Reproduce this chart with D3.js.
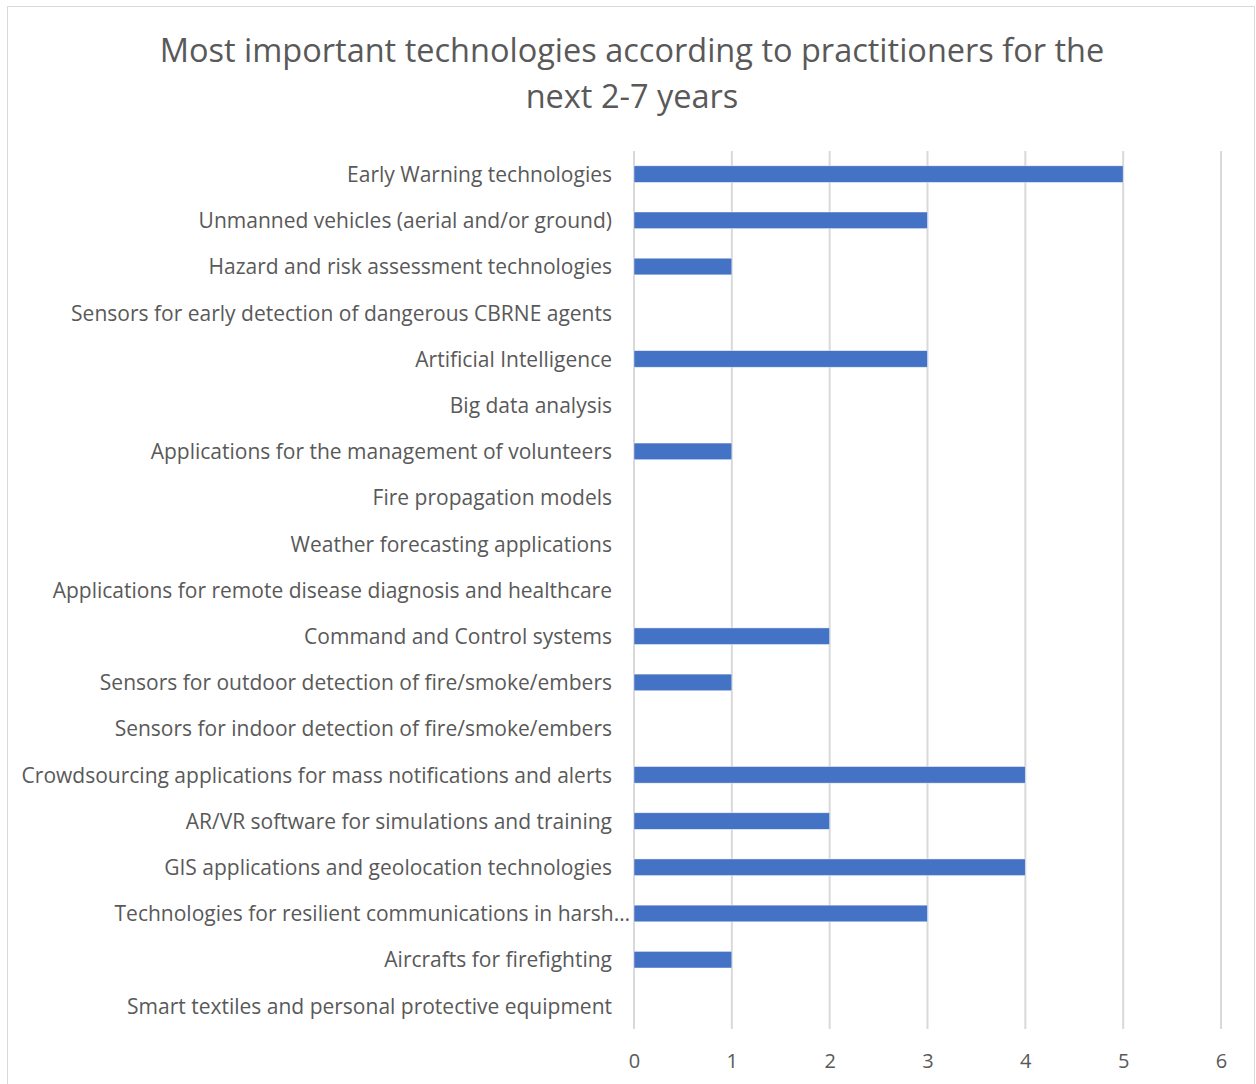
<!DOCTYPE html>
<html>
<head>
<meta charset="utf-8">
<script src="https://cdn.jsdelivr.net/npm/d3@7"></script>
<style>
  body { margin: 0; background: #fff; }
  svg { display: block; }
</style>
</head>
<body>
<div id="chart"></div>
<script>
// chart values
var categories = [
  "Early Warning technologies",
  "Unmanned vehicles (aerial and/or ground)",
  "Hazard and risk assessment technologies",
  "Sensors for early detection of dangerous CBRNE agents",
  "Artificial Intelligence",
  "Big data analysis",
  "Applications for the management of volunteers",
  "Fire propagation models",
  "Weather forecasting applications",
  "Applications for remote disease diagnosis and healthcare",
  "Command and Control systems",
  "Sensors for outdoor detection of fire/smoke/embers",
  "Sensors for indoor detection of fire/smoke/embers",
  "Crowdsourcing applications for mass notifications and alerts",
  "AR/VR software for simulations and training",
  "GIS applications and geolocation technologies",
  "Technologies for resilient communications in harsh…",
  "Aircrafts for firefighting",
  "Smart textiles and personal protective equipment"
];
var values = [5, 3, 1, 0, 3, 0, 1, 0, 0, 0, 2, 1, 0, 4, 2, 4, 3, 1, 0];
var xTicks = [0, 1, 2, 3, 4, 5, 6];
var titleLines = ["Most important technologies according to practitioners for the", "next 2-7 years"];

var width = 1256, height = 1084;
var margin = {top: 151, right: 35, bottom: 55, left: 634};
var font = "'Open Sans', sans-serif";

var svg = d3.select("#chart").append("svg")
  .attr("width", width)
  .attr("height", height);

// outer border of the chart area
svg.append("rect")
  .attr("x", 7.5).attr("y", 6.5)
  .attr("width", 1247).attr("height", 1090)
  .attr("fill", "#fff")
  .attr("stroke", "#d9d9d9");

svg.selectAll("text.title")
  .data(titleLines)
  .join("text")
  .attr("class", "title")
  .attr("x", 632)
  .attr("y", (d, i) => 62 + i * 46)
  .attr("text-anchor", "middle")
  .style("font-family", font)
  .style("font-size", "32.5px")
  .attr("fill", "#595959")
  .text(d => d);

var x_scale = d3.scaleLinear()
  .domain([0, 6])
  .range([margin.left, width - margin.right]);

var y_scale = d3.scaleBand()
  .domain(categories)
  .range([margin.top, height - margin.bottom])
  .paddingInner(0.64)
  .paddingOuter(0.32);

// gridlines
svg.append("g")
  .selectAll("line")
  .data(xTicks)
  .join("line")
  .attr("x1", d => x_scale(d)).attr("x2", d => x_scale(d))
  .attr("y1", margin.top).attr("y2", height - margin.bottom)
  .attr("stroke", "#d9d9d9")
  .attr("stroke-width", 2);

// bars
svg.append("g")
  .selectAll("rect")
  .data(values)
  .join("rect")
  .attr("x", x_scale(0))
  .attr("y", (d, i) => y_scale(categories[i]))
  .attr("width", d => x_scale(d) - x_scale(0))
  .attr("height", y_scale.bandwidth())
  .attr("fill", "#4472c4")
  .attr("stroke", "#fff")
  .attr("stroke-width", 0.75)
  .attr("stroke-opacity", 0.6);

// x axis
var xAxis = svg.append("g")
  .attr("transform", `translate(0, ${height - margin.bottom})`)
  .call(d3.axisBottom(x_scale).tickValues(xTicks).tickSize(0).tickPadding(25).tickFormat(d3.format("d")));
xAxis.select(".domain").remove();
xAxis.selectAll("text")
  .style("font-family", font)
  .style("font-size", "20px")
  .attr("fill", "#595959");

// y axis
var yAxis = svg.append("g")
  .attr("transform", `translate(${margin.left}, 0)`)
  .call(d3.axisLeft(y_scale).tickSize(0).tickPadding(22));
yAxis.select(".domain").remove();
yAxis.selectAll("text")
  .style("font-family", font)
  .style("font-size", "21px")
  .attr("fill", "#595959")
  .attr("dy", "0.37em")
  .attr("dx", (d, i) => i == 16 ? 18 : 0);
</script>
</body>
</html>
